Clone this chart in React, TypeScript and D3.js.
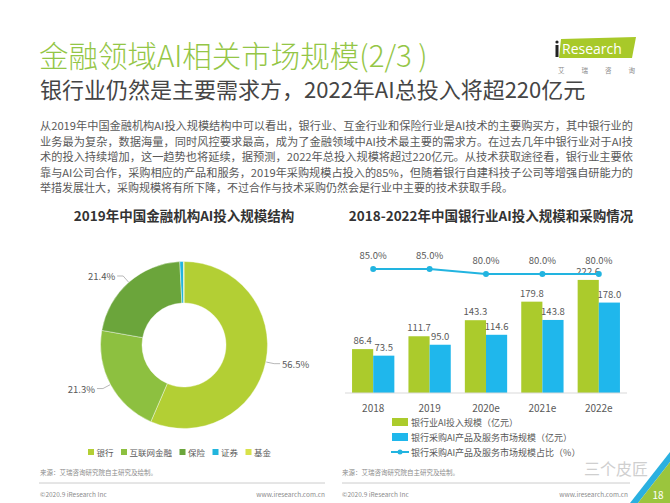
import * as d3 from "d3";

const PIE_CATEGORIES = ["银行", "互联网金融", "保险", "证券", "基金"];
const PIE_VALUES = [56.5, 21.3, 21.4, 0.7, 0.1];
const PIE_LABELS = ["56.5%", "21.3%", "21.4%", "", ""];
const PIE_COLORS = ["#b3cf34", "#8dc040", "#6ba53b", "#22b5dd", "#d8e24a"];

const YEARS = ["2018", "2019", "2020e", "2021e", "2022e"];
const INVEST = [86.4, 111.7, 143.3, 179.8, 222.6];
const PURCHASE = [73.5, 95.0, 114.6, 143.8, 178.0];
const SHARE = [85.0, 85.0, 80.0, 80.0, 80.0];
const BAR_LEGEND = [
  "银行业AI投入规模（亿元）",
  "银行采购AI产品及服务市场规模（亿元）",
  "银行采购AI产品及服务市场规模占比（%）",
];

const PARAGRAPH = [
  "从2019年中国金融机构AI投入规模结构中可以看出，银行业、互金行业和保险行业是AI技术的主要购买方，其中银行业的",
  "业务最为复杂，数据海量，同时风控要求最高，成为了金融领域中AI技术最主要的需求方。在过去几年中银行业对于AI技",
  "术的投入持续增加，这一趋势也将延续，据预测，2022年总投入规模将超过220亿元。从技术获取途径看，银行业主要依",
  "靠与AI公司合作，采购相应的产品和服务，2019年采购规模占投入的85%，但随着银行自建科技子公司等增强自研能力的",
  "举措发展壮大，采购规模将有所下降，不过合作与技术采购仍然会是行业中主要的技术获取手段。",
];

const FONT = "'Noto Sans CJK SC', 'Noto Sans', sans-serif";
const GRAY = "#595959";
const BAR_GREEN = "#abcb2c";
const BAR_BLUE = "#1fb7ec";
const LINE_BLUE = "#22b4e0";

function Donut() {
  const cx = 184;
  const cy = 345;
  const pie = d3.pie<number>().sort(null).value((d) => d);
  const arcs = pie(PIE_VALUES);
  const arc = d3.arc<d3.PieArcDatum<number>>().innerRadius(42).outerRadius(83.5);
  const pt = (a: number, r: number) => [Math.sin(a) * r, -Math.cos(a) * r];

  // legend layout from text length
  const legendFont = 8.5;
  let lx = 88;
  const legendItems = PIE_CATEGORIES.map((c) => {
    const item = { name: c, x: lx };
    lx += 8 + c.length * legendFont + 8;
    return item;
  });

  return (
    <g>
      <text x={cx} y={215} textAnchor="middle" dominantBaseline="central" fontSize={13.5} fontWeight={700} fill="#333">
        2019年中国金融机构AI投入规模结构
      </text>
      <g transform={`translate(${cx},${cy})`}>
        {arcs.map((a, i) => (
          <path key={i} d={arc(a) ?? ""} fill={PIE_COLORS[i]} stroke="#fff" strokeWidth={0.4} />
        ))}
        {arcs.map((a, i) => {
          if (!PIE_LABELS[i]) return null;
          const mid = (a.startAngle + a.endAngle) / 2;
          const right = Math.sin(mid) > 0;
          const p1 = pt(mid, 84);
          const p2 = pt(mid, 92);
          const p3 = [p2[0] + (right ? 6 : -6), p2[1]];
          return (
            <g key={`l${i}`}>
              <polyline points={`${p1} ${p2} ${p3}`} fill="none" stroke="#a6a6a6" strokeWidth={0.8} />
              <text
                x={p3[0] + (right ? 2 : -2)}
                y={p3[1]}
                textAnchor={right ? "start" : "end"}
                dominantBaseline="central"
                fontSize={9.5}
                fill={GRAY}
              >
                {PIE_LABELS[i]}
              </text>
            </g>
          );
        })}
      </g>
      {legendItems.map((it, i) => (
        <g key={it.name} transform={`translate(${it.x},452)`}>
          <rect x={0} y={-3} width={6} height={6} fill={PIE_COLORS[i]} />
          <text x={8.5} y={0} dominantBaseline="central" fontSize={legendFont} fill={GRAY}>
            {it.name}
          </text>
        </g>
      ))}
    </g>
  );
}

function BarChart() {
  const x = d3.scaleBand<string>().domain(YEARS).range([345, 627]).paddingInner(0.25).paddingOuter(0.125);
  const y = d3.scaleLinear().domain([0, 250]).range([393, 266]);
  const yLine = d3.scaleLinear().domain([0, 100]).range([354, 254]);
  const bw = x.bandwidth() / 2;
  const cxOf = (yr: string) => (x(yr) ?? 0) + x.bandwidth() / 2;
  const line = d3
    .line<number>()
    .x((_, i) => cxOf(YEARS[i]))
    .y((d) => yLine(d));

  return (
    <g>
      <text x={491} y={215} textAnchor="middle" dominantBaseline="central" fontSize={13.5} fontWeight={700} fill="#333">
        2018-2022年中国银行业AI投入规模和采购情况
      </text>
      {YEARS.map((yr, i) => {
        const x0 = x(yr) ?? 0;
        return (
          <g key={yr}>
            <rect x={x0} y={y(INVEST[i])} width={bw} height={y(0) - y(INVEST[i])} fill={BAR_GREEN} />
            <rect x={x0 + bw} y={y(PURCHASE[i])} width={bw} height={y(0) - y(PURCHASE[i])} fill={BAR_BLUE} />
            <text x={x0 + bw / 2} y={y(INVEST[i]) - 9} textAnchor="middle" dominantBaseline="central" fontSize={9.5} fill={GRAY}>
              {INVEST[i].toFixed(1)}
            </text>
            <text x={x0 + bw * 1.5} y={y(PURCHASE[i]) - 9} textAnchor="middle" dominantBaseline="central" fontSize={9.5} fill={GRAY}>
              {PURCHASE[i].toFixed(1)}
            </text>
            <text x={cxOf(yr)} y={407} textAnchor="middle" dominantBaseline="central" fontSize={10} fill={GRAY}>
              {yr}
            </text>
          </g>
        );
      })}
      <line x1={345} x2={627} y1={y(0)} y2={y(0)} stroke="#d9d9d9" strokeWidth={1} />
      <path d={line(SHARE) ?? ""} fill="none" stroke={LINE_BLUE} strokeWidth={2.2} />
      {SHARE.map((s, i) => (
        <g key={i}>
          <circle cx={cxOf(YEARS[i])} cy={yLine(s)} r={3} fill={LINE_BLUE} />
          <text x={cxOf(YEARS[i])} y={yLine(s) - 14} textAnchor="middle" dominantBaseline="central" fontSize={9.5} fill={GRAY}>
            {s.toFixed(1)}%
          </text>
        </g>
      ))}
      {BAR_LEGEND.map((t, i) => {
        const ly = 422 + i * 15;
        return (
          <g key={t}>
            {i < 2 ? (
              <rect x={392} y={ly - 4} width={16} height={8} fill={i === 0 ? BAR_GREEN : BAR_BLUE} />
            ) : (
              <g>
                <line x1={391} x2={409} y1={ly} y2={ly} stroke={LINE_BLUE} strokeWidth={2} />
                <circle cx={400} cy={ly} r={2.5} fill={LINE_BLUE} />
              </g>
            )}
            <text x={411} y={ly} dominantBaseline="central" fontSize={9} fill={GRAY}>
              {t}
            </text>
          </g>
        );
      })}
    </g>
  );
}

export default function App() {
  const lineY = [125, 140.6, 156.2, 171.8, 187.4];
  return (
    <svg
      width={670}
      height={503}
      viewBox="0 0 670 503"
      style={{ position: "absolute", left: 0, top: 0, background: "#fff" }}
      fontFamily={FONT}
    >
      <rect width={670} height={503} fill="#fff" />
      <text x={39} y={54} dominantBaseline="central" fontSize={29.5} fontWeight={300} fill="#94c646">
        金融领域AI相关市场规模(2/3 )
      </text>
      <text x={40} y={88} dominantBaseline="central" fontSize={22} fontWeight={400} fill="#454545">
        银行业仍然是主要需求方，2022年AI总投入将超220亿元
      </text>

      {/* logo */}
      <path d="M561,39 L636,37 L632,58 L559,58 Z" fill="#a8c929" />
      <circle cx={557} cy={42} r={1.6} fill="#222" />
      <rect x={555.5} y={45} width={3} height={12} fill="#222" />
      <text x={562} y={48.5} dominantBaseline="central" fontSize={14} fill="#fff" fontFamily="'Open Sans', sans-serif">
        Research
      </text>
      <text x={558} y={70} dominantBaseline="central" fontSize={6.5} fill="#8a8a8a" letterSpacing={17}>
        艾瑞咨询
      </text>

      {PARAGRAPH.map((t, i) => (
        <text
          key={i}
          x={40}
          y={lineY[i]}
          dominantBaseline="central"
          fontSize={11}
          fill={GRAY}
          textLength={i < 4 ? 593 : undefined}
          lengthAdjust="spacingAndGlyphs"
        >
          {t}
        </text>
      ))}

      <Donut />
      <BarChart />

      {/* footer */}
      <text x={40} y={472} dominantBaseline="central" fontSize={6.5} fill="#8c8c8c">来源：艾瑞咨询研究院自主研究及绘制。</text>
      <text x={342} y={472} dominantBaseline="central" fontSize={6.5} fill="#8c8c8c">来源：艾瑞咨询研究院自主研究及绘制。</text>
      <line x1={39} x2={325} y1={483} y2={483} stroke="#bfbfbf" strokeWidth={0.8} />
      <line x1={342} x2={630} y1={483} y2={483} stroke="#bfbfbf" strokeWidth={0.8} />
      <text x={40} y={494} dominantBaseline="central" fontSize={6.5} fill="#8c8c8c">©2020.9 iResearch Inc</text>
      <text x={325} y={494} textAnchor="end" dominantBaseline="central" fontSize={6.5} fill="#8c8c8c">www.iresearch.com.cn</text>
      <text x={342} y={494} dominantBaseline="central" fontSize={6.5} fill="#8c8c8c">©2020.9 iResearch Inc</text>
      <text x={628} y={494} textAnchor="end" dominantBaseline="central" fontSize={6.5} fill="#8c8c8c">www.iresearch.com.cn</text>

      <text x={584} y={468} dominantBaseline="central" fontSize={16} fill="#cfcfcf">三个皮匠</text>
      <polygon points="630,503 670,452 670,462 638,503" fill="#2ab0e0" />
      <polygon points="638,503 670,462 670,503" fill="#9bc53d" />
      <text x={658} y={494} textAnchor="middle" dominantBaseline="central" fontSize={10} fill="#fff">18</text>
    </svg>
  );
}
